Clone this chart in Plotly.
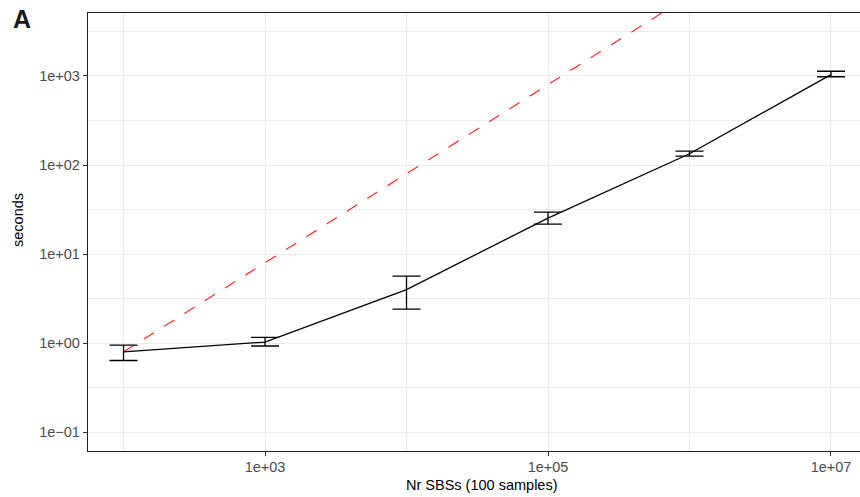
import plotly.graph_objects as go

# ---- data ----
n_sbs = [1e2, 1e3, 1e4, 1e5, 1e6, 1e7]
seconds_mean = [0.80, 1.03, 4.0, 25.4, 134, 1035]
seconds_upper = [0.95, 1.16, 5.66, 29.6, 143.6, 1130]
seconds_lower = [0.64, 0.93, 2.41, 21.7, 126, 980]
linear_ref = [0.8, 8, 80, 800, 8000, 80000]

x_tickvals = [1e3, 1e5, 1e7]
x_ticktext = ["1e+03", "1e+05", "1e+07"]
x_minor = [1e2, 1e4, 1e6]
y_tickvals = [1e-1, 1e0, 1e1, 1e2, 1e3]
y_ticktext = ["1e\u221201", "1e+00", "1e+01", "1e+02", "1e+03"]
y_minor = [10 ** -0.5, 10 ** 0.5, 10 ** 1.5, 10 ** 2.5, 10 ** 3.5]

err_plus = [u - m for u, m in zip(seconds_upper, seconds_mean)]
err_minus = [m - l for m, l in zip(seconds_mean, seconds_lower)]

FONT = "Liberation Sans, Arial, Helvetica, sans-serif"
GRID = "#EBEBEB"
AXIS = "#222222"

fig = go.Figure()

fig.add_trace(go.Scatter(
    x=n_sbs, y=linear_ref, mode="lines",
    line=dict(color="#FF2A2A", width=1.2, dash="12px,12px"),
    showlegend=False, hoverinfo="skip",
))

fig.add_trace(go.Scatter(
    x=n_sbs, y=seconds_mean, mode="lines",
    line=dict(color="black", width=1.3),
    error_y=dict(type="data", symmetric=False, array=err_plus, arrayminus=err_minus,
                 color="black", thickness=1.3, width=14),
    showlegend=False,
))

fig.update_layout(
    width=860, height=497,
    margin=dict(l=88, r=0, t=13, b=46),
    paper_bgcolor="white", plot_bgcolor="white",
    font=dict(family=FONT, size=15, color="black"),
    xaxis=dict(
        type="log", range=[1.749, 7.205],
        tickvals=x_tickvals, ticktext=x_ticktext,
        tickfont=dict(size=14.5, color="#4D4D4D"),
        ticklabelstandoff=-2,
        showgrid=True, gridcolor=GRID, gridwidth=1.2,
        minor=dict(tickvals=x_minor, showgrid=True, gridcolor=GRID, gridwidth=1.1, ticks=""),
        showline=True, linecolor=AXIS, linewidth=1.4, mirror=True,
        ticks="outside", ticklen=4, tickcolor="#333333", tickwidth=1,
        zeroline=False,
    ),
    yaxis=dict(
        type="log", range=[-1.21, 3.707],
        tickvals=y_tickvals, ticktext=y_ticktext,
        tickfont=dict(size=14.5, color="#4D4D4D"),
        showgrid=True, gridcolor=GRID, gridwidth=1.2,
        minor=dict(tickvals=y_minor, showgrid=True, gridcolor=GRID, gridwidth=1.1, ticks=""),
        showline=True, linecolor=AXIS, linewidth=1.4, mirror=False,
        ticks="outside", ticklen=4, tickcolor="#333333", tickwidth=1,
        zeroline=False,
    ),
    annotations=[
        dict(text="Nr SBSs (100 samples)", xref="paper", yref="paper",
             x=(482 - 88) / (860 - 88), y=-(485 - 451) / (451 - 13),
             xanchor="center", yanchor="middle", showarrow=False,
             font=dict(size=14.5, color="black")),
        dict(text="seconds", xref="paper", yref="paper",
             x=-(88 - 18) / (860 - 88), y=(451 - 220) / (451 - 13),
             xanchor="center", yanchor="middle", textangle=-90, showarrow=False,
             font=dict(size=14.5, color="black")),
        dict(text="<b>A</b>", xref="paper", yref="paper",
             x=-(88 - 11) / (860 - 88), y=(451 - 19) / (451 - 13),
             xanchor="left", yanchor="middle", showarrow=False,
             font=dict(size=25, color="#1a1a1a")),
    ],
)

fig.write_html("out.html")
